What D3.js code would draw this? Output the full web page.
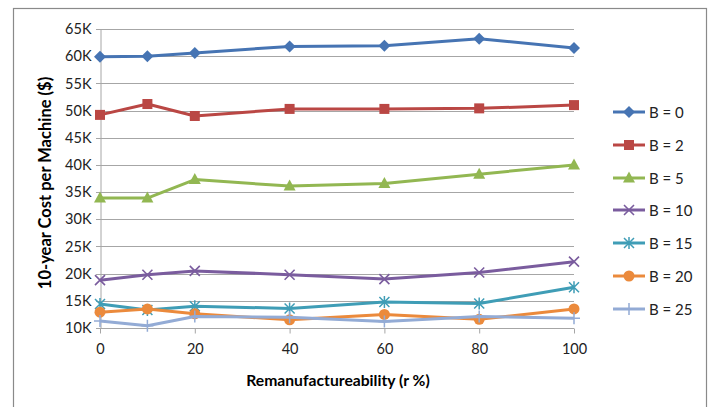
<!DOCTYPE html>
<html>
<head>
<meta charset="utf-8">
<script src="https://cdn.jsdelivr.net/npm/d3@7"></script>
<style>
  html, body { margin: 0; padding: 0; background: #fff; }
  svg { display: block; font-family: Lato, "Open Sans", sans-serif; }
</style>
</head>
<body>
<svg id="chart" width="711" height="407"></svg>
<script>
const xValues = [0, 10, 20, 40, 60, 80, 100];
const xTicks = [0, 20, 40, 60, 80, 100];
const yTicks = [10000, 15000, 20000, 25000, 30000, 35000, 40000, 45000, 50000, 55000, 60000, 65000];
const seriesNames = ["B = 0", "B = 2", "B = 5", "B = 10", "B = 15", "B = 20", "B = 25"];
const b0  = [59900, 60000, 60600, 61800, 61900, 63200, 61500];
const b2  = [49200, 51200, 49000, 50300, 50300, 50400, 51000];
const b5  = [33900, 33900, 37300, 36100, 36600, 38300, 40000];
const b10 = [18800, 19800, 20500, 19800, 19000, 20200, 22200];
const b15 = [14400, 13300, 14000, 13600, 14800, 14500, 17500];
const b20 = [12900, 13500, 12600, 11500, 12500, 11600, 13500];
const b25 = [11300, 10400, 12100, 12000, 11200, 12100, 11800];
const seriesValues = [b0, b2, b5, b10, b15, b20, b25];
const colors = ["#4674B3", "#BA4744", "#92B752", "#7A5C9E", "#3F9DB6", "#EB8A3C", "#93ABD5"];
const markers = ["diamond", "square", "triangle", "x", "asterisk", "circle", "plus"];

const svg = d3.select("#chart");
const x = d3.scaleLinear().domain([0, 100]).range([100, 574]);
const y = d3.scaleLinear().domain([10000, 65000]).range([328, 29]);

// outer frame
svg.append("rect").attr("x", 13.5).attr("y", 8.5).attr("width", 693).attr("height", 420)
  .attr("fill", "none").attr("stroke", "#8a8a8a").attr("stroke-width", 1.2);

// gridlines
svg.append("g").selectAll("line").data(yTicks).join("line")
  .attr("x1", 96).attr("x2", 574)
  .attr("y1", d => Math.round(y(d)) + 0.5).attr("y2", d => Math.round(y(d)) + 0.5)
  .attr("stroke", "#a6a6a6").attr("stroke-width", 1);

// y axis
const yAxis = d3.axisLeft(y).tickValues(yTicks).tickSize(0).tickPadding(9)
  .tickFormat(d => (d / 1000) + "K");
const gy = svg.append("g").attr("transform", "translate(100.5,0)").call(yAxis);
gy.select(".domain").attr("stroke", "#a6a6a6");
gy.selectAll("text").attr("font-size", 14.5).attr("fill", "#222")
  .attr("font-family", "Lato, sans-serif");

// x axis
const xAxis = d3.axisBottom(x).tickValues(xTicks).tickSize(5).tickPadding(10)
  .tickFormat(d3.format("d"));
const gx = svg.append("g").attr("transform", "translate(0," + (Math.round(y(10000)) + 0.5) + ")").call(xAxis);
gx.select(".domain").remove();
gx.selectAll("line").attr("stroke", "#a6a6a6");
gx.selectAll("text").attr("font-size", 14.5).attr("fill", "#222")
  .attr("font-family", "Lato, sans-serif");

// axis titles
svg.append("text").attr("x", 338).attr("y", 386).attr("text-anchor", "middle")
  .attr("font-size", 15.7).attr("font-weight", "bold").attr("fill", "#000")
  .text("Remanufactureability (r %)");
svg.append("text").attr("transform", "translate(51,183) rotate(-90)").attr("text-anchor", "middle")
  .attr("font-size", 16.5).attr("font-weight", "bold").attr("fill", "#000")
  .text("10-year Cost per Machine ($)");

function drawMarker(g, type, cx, cy, color) {
  const s = 5;
  if (type === "diamond") {
    g.append("path").attr("d", `M${cx},${cy - 6}L${cx + 6},${cy}L${cx},${cy + 6}L${cx - 6},${cy}Z`).attr("fill", color);
  } else if (type === "square") {
    g.append("rect").attr("x", cx - 5).attr("y", cy - 5).attr("width", 10).attr("height", 10).attr("fill", color);
  } else if (type === "triangle") {
    g.append("path").attr("d", `M${cx},${cy - 6.5}L${cx + 6},${cy + 4.5}L${cx - 6},${cy + 4.5}Z`).attr("fill", color);
  } else if (type === "circle") {
    g.append("circle").attr("cx", cx).attr("cy", cy).attr("r", 5.5).attr("fill", color);
  } else if (type === "x") {
    g.append("path").attr("d", `M${cx - s},${cy - s}L${cx + s},${cy + s}M${cx - s},${cy + s}L${cx + s},${cy - s}`)
      .attr("stroke", color).attr("stroke-width", 1.6).attr("fill", "none");
  } else if (type === "asterisk") {
    g.append("path").attr("d", `M${cx - s},${cy - s}L${cx + s},${cy + s}M${cx - s},${cy + s}L${cx + s},${cy - s}M${cx},${cy - 6}L${cx},${cy + 6}`)
      .attr("stroke", color).attr("stroke-width", 1.5).attr("fill", "none");
  } else if (type === "plus") {
    g.append("path").attr("d", `M${cx},${cy - 6}L${cx},${cy + 6}M${cx - 6},${cy}L${cx + 6},${cy}`)
      .attr("stroke", color).attr("stroke-width", 1.5).attr("fill", "none");
  }
}

const line = d3.line().x((d, i) => x(xValues[i])).y(d => y(d));
const series = seriesValues.map((vals, k) => ({ name: seriesNames[k], vals, color: colors[k], marker: markers[k] }));

series.forEach(s => {
  const g = svg.append("g");
  g.append("path").attr("d", line(s.vals)).attr("fill", "none")
    .attr("stroke", s.color).attr("stroke-width", 3).attr("stroke-linejoin", "round");
  s.vals.forEach((v, i) => drawMarker(g, s.marker, x(xValues[i]), y(v), s.color));
});

// legend
const legendY = [112, 145, 178, 210, 243, 276, 309];
series.forEach((s, k) => {
  const g = svg.append("g");
  const ly = legendY[k];
  g.append("line").attr("x1", 613).attr("x2", 645).attr("y1", ly).attr("y2", ly)
    .attr("stroke", s.color).attr("stroke-width", 3);
  drawMarker(g, s.marker, 629, ly, s.color);
  g.append("text").attr("x", 649).attr("y", ly + 5.5).attr("font-size", 15).attr("fill", "#222")
    .text(s.name);
});
</script>
</body>
</html>
